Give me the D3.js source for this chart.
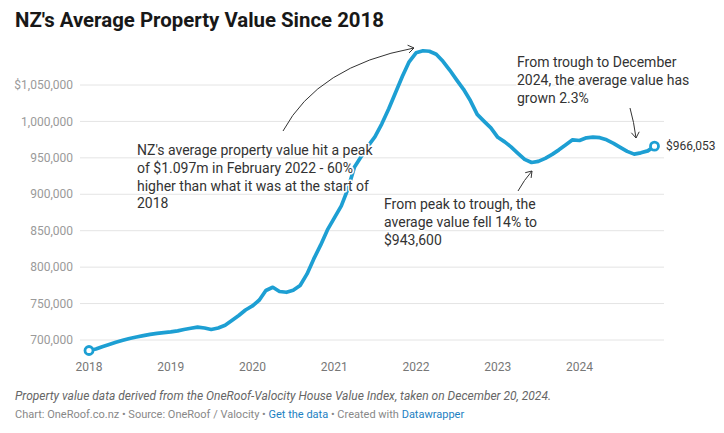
<!DOCTYPE html>
<html>
<head>
<meta charset="utf-8">
<script src="https://cdn.jsdelivr.net/npm/d3@7"></script>
<style>
  html, body { margin: 0; padding: 0; background: #fff; }
  svg { display: block; font-family: Roboto, "Noto Sans", sans-serif; }
</style>
</head>
<body>
<svg id="chart" width="724" height="433"></svg>
<script>
// ---- data ----
const startMonth = "2018-01";
const values = [
  685600, 687600, 690800, 693800, 696800, 699600, 702100, 704100, 706000, 707700, 709100, 710200,
  711100, 712600, 714400, 716100, 717600, 716500, 714400, 716500, 720200, 726800, 733700, 741200,
  746700, 754900, 768000, 772400, 766600, 765500, 768300, 774900, 790700, 811300, 830500, 851100,
  867600, 884100, 906000, 937600, 952000, 966500, 978800, 996700, 1017300, 1039300, 1062000, 1081900,
  1094200, 1097000, 1096300, 1092200, 1082500, 1070200, 1057100, 1044100, 1028300, 1009700, 1000100, 991200,
  978200, 972000, 965100, 956200, 947900, 943600, 945200, 949300, 954800, 961000, 967900, 974700,
  973800, 977500, 978400, 977700, 974700, 969900, 964400, 958900, 955100, 956900, 959600, 966053
];
const yTicks = [700000, 750000, 800000, 850000, 900000, 950000, 1000000, 1050000];
const xTickYears = [2018, 2019, 2020, 2021, 2022, 2023, 2024];
const endLabel = "$966,053";
const title = "NZ's Average Property Value Since 2018";
const noteLine = "Property value data derived from the OneRoof-Valocity House Value Index, taken on December 20, 2024.";
const annotations = [
  { lines: ["NZ's average property value hit a peak", "of $1.097m in February 2022 - 60%", "higher than what it was at the start of", "2018"], x: 137, y: 155 },
  { lines: ["From peak to trough, the", "average value fell 14% to", "$943,600"], x: 384, y: 209 },
  { lines: ["From trough to December", "2024, the average value has", "grown 2.3%"], x: 517, y: 67 }
];

const parse = d3.timeParse("%Y-%m");
const t0 = parse(startMonth);
const data = values.map((v, i) => ({ date: d3.timeMonth.offset(t0, i), value: v }));

const svg = d3.select("#chart");
const blue = "#1d9fd3";

const x = d3.scaleTime()
  .domain([data[0].date, data[data.length - 1].date])
  .range([89, 654.5]);
const y = d3.scaleLinear().domain([700000, 1050000]).range([340, 85]);

// title
svg.append("text").attr("x", 15).attr("y", 27)
  .attr("font-size", 20.4).attr("font-weight", 700).attr("fill", "#181818")
  .text(title);

// grid + y labels
const fmt = d3.format(",");
const gy = svg.append("g");
yTicks.forEach((t, i) => {
  gy.append("line").attr("x1", 80).attr("x2", 664)
    .attr("y1", y(t)).attr("y2", y(t))
    .attr("stroke", "#e4e4e4").attr("stroke-width", 1);
  gy.append("text").attr("x", 73).attr("y", y(t)).attr("dy", "0.35em")
    .attr("text-anchor", "end").attr("font-size", 12).attr("fill", "#9a9a9a")
    .text((i === yTicks.length - 1 ? "$" : "") + fmt(t));
});

// x labels
const gx = svg.append("g");
xTickYears.forEach(yr => {
  gx.append("text").attr("x", x(new Date(yr, 0, 1))).attr("y", 371)
    .attr("text-anchor", "middle").attr("font-size", 12).attr("fill", "#777")
    .text(yr);
});

// line
const line = d3.line().x(d => x(d.date)).y(d => y(d.value));
svg.append("path").datum(data).attr("d", line)
  .attr("fill", "none").attr("stroke", blue).attr("stroke-width", 3.7)
  .attr("stroke-linejoin", "round").attr("stroke-linecap", "round");

// end points
[data[0], data[data.length - 1]].forEach(d => {
  svg.append("circle").attr("cx", x(d.date)).attr("cy", y(d.value)).attr("r", 4)
    .attr("fill", "#fff").attr("stroke", blue).attr("stroke-width", 2.8);
});

// end label
const last = data[data.length - 1];
svg.append("text").attr("x", 666).attr("y", y(last.value)).attr("dy", "0.35em")
  .attr("font-size", 12).attr("fill", "#333").text(endLabel);

// annotations
annotations.forEach(a => {
  const t = svg.append("text").attr("font-size", 14).attr("fill", "#333")
    .attr("stroke", "#fff").attr("stroke-width", 3).attr("paint-order", "stroke")
    .attr("stroke-linejoin", "round");
  a.lines.forEach((l, i) => {
    t.append("tspan").attr("x", a.x).attr("y", a.y + i * 17.8).text(l);
  });
});

// arrows (quadratic curves with chevron heads)
function arrow(p0, c, p1) {
  svg.append("path")
    .attr("d", `M${p0[0]},${p0[1]} Q${c[0]},${c[1]} ${p1[0]},${p1[1]}`)
    .attr("fill", "none").attr("stroke", "#333").attr("stroke-width", 1);
  const ang = Math.atan2(p1[1] - c[1], p1[0] - c[0]);
  const L = 7, spread = 0.6;
  const a1 = ang + Math.PI - spread, a2 = ang + Math.PI + spread;
  svg.append("path")
    .attr("d", `M${p1[0] + L * Math.cos(a1)},${p1[1] + L * Math.sin(a1)} L${p1[0]},${p1[1]} L${p1[0] + L * Math.cos(a2)},${p1[1] + L * Math.sin(a2)}`)
    .attr("fill", "none").attr("stroke", "#333").attr("stroke-width", 1);
}
arrow([283, 131], [318, 66], [414, 48]);
arrow([518, 191], [524, 180], [532, 171]);
arrow([630, 108], [634, 122], [636, 138]);

// footer
svg.append("text").attr("x", 15).attr("y", 400)
  .attr("font-size", 12).attr("font-style", "italic").attr("fill", "#666")
  .text(noteLine);
const foot = svg.append("text").attr("x", 15).attr("y", 418).attr("font-size", 11).attr("fill", "#888");
const parts = [
  ["Chart: OneRoof.co.nz • Source: OneRoof / Valocity • ", "#888"],
  ["Get the data", "#1d81c2"],
  [" • Created with ", "#888"],
  ["Datawrapper", "#1d81c2"]
];
parts.forEach(p => foot.append("tspan").attr("fill", p[1]).text(p[0]));
</script>
</body>
</html>
